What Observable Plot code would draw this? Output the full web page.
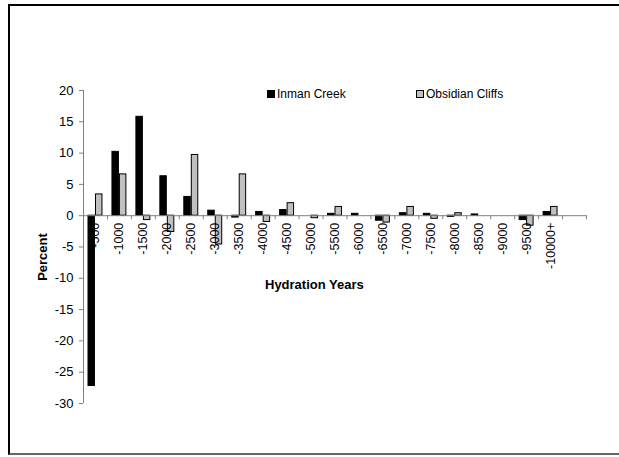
<!DOCTYPE html>
<html><head><meta charset="utf-8">
<script src="https://cdn.jsdelivr.net/npm/d3@7"></script>
<script src="https://cdn.jsdelivr.net/npm/@observablehq/plot@0.6"></script>
<style>
body{margin:0;background:#fff;font-family:"Liberation Sans",Arial,sans-serif;}
#wrap{position:relative;width:619px;height:457px;overflow:hidden;}
#border{position:absolute;left:8px;top:4px;width:640px;height:447px;border-left:2px solid #000;border-top:2px solid #000;border-bottom:2px solid #666;box-sizing:content-box;}
#chart{position:absolute;left:0;top:0;}
.lg{position:absolute;font-size:12px;color:#000;line-height:12px;white-space:nowrap;}
.sw{display:inline-block;width:6px;height:6px;border:1px solid #000;margin-right:2px;vertical-align:0px;}
.title{position:absolute;font-weight:bold;font-size:13px;color:#000;white-space:nowrap;}
</style></head>
<body>
<div id="wrap">
  <div id="border"></div>
  <div id="chart"></div>
  <div class="lg" id="lg1" style="left:267px;top:88px;"><span class="sw" style="background:#000"></span>Inman Creek</div>
  <div class="lg" id="lg2" style="left:416px;top:88px;"><span class="sw" style="background:#c0c0c0"></span>Obsidian Cliffs</div>
  <div class="title" style="left:265px;top:277px;">Hydration Years</div>
  <div class="title" style="left:42px;top:257px;transform:translate(-50%,-50%) rotate(-90deg);">Percent</div>
</div>
<script>
const categories = ["-500","-1000","-1500","-2000","-2500","-3000","-3500","-4000","-4500","-5000",
  "-5500","-6000","-6500","-7000","-7500","-8000","-8500","-9000","-9500","-10000+"];
const inmanCreek = [-27.2,10.2,15.8,6.3,3.0,0.8,-0.3,0.6,0.9,0,0.3,0.3,-0.8,0.4,0.3,-0.2,0.2,0,-0.7,0.6];
const obsidianCliffs = [3.4,6.6,-0.7,-2.6,9.7,-4.6,6.6,-1.0,2.0,-0.4,1.4,0,-1.1,1.4,-0.5,0.4,0,0,-1.6,1.4];
const yTicks = [-30,-25,-20,-15,-10,-5,0,5,10,15,20];

const domain = [...categories, " "];
const data = categories.map((c, i) => ({c, inman: inmanCreek[i], obs: obsidianCliffs[i]}));

const W = 619, H = 457, mL = 83, mR = 33, mT = 90, mB = 54;
const bw = (W - mL - mR) / domain.length;
const grey = "#808080";
const first = () => domain[0];

const chart = Plot.plot({
  width: W, height: H,
  marginLeft: mL, marginRight: mR, marginTop: mT, marginBottom: mB,
  style: {fontFamily: "'Liberation Sans', Arial, sans-serif", background: "transparent", color: "#000"},
  x: {type: "band", domain, padding: 0, round: false, axis: null},
  y: {domain: [-30, 20], axis: null},
  marks: [
    Plot.barY(data, {x: "c", y1: 0, y2: "inman", fill: "#000", stroke: "#000", strokeWidth: 1, insetLeft: 5, insetRight: 12.5}),
    Plot.barY(data, {x: "c", y1: 0, y2: "obs", fill: "#c0c0c0", stroke: "#000", strokeWidth: 1, insetLeft: 12.5, insetRight: 5}),
    Plot.ruleY([0], {stroke: grey}),
    Plot.ruleX(domain, {x: d => d, y1: 0, y2: -0.65, dx: -bw / 2, stroke: grey}),
    Plot.ruleX([domain[domain.length - 1]], {x: d => d, y1: 0, y2: -0.65, dx: bw / 2, stroke: grey}),
    Plot.ruleX([domain[0]], {x: d => d, y1: -30, y2: 20, dx: -bw / 2, stroke: grey}),
    Plot.tickY(yTicks, {y: d => d, x: first, dx: -bw / 2 - 2, stroke: grey, insetLeft: bw / 2 - 2, insetRight: bw / 2 - 2}),
    Plot.text(yTicks, {y: d => d, x: first, text: d => String(d), textAnchor: "end", dx: -bw / 2 - 10, fontSize: 13}),
    Plot.text(categories, {x: d => d, y: 0, text: d => d, rotate: -90, textAnchor: "end", dy: 7, fontSize: 12.5})
  ]
});
document.getElementById("chart").appendChild(chart);
</script>
</body></html>
